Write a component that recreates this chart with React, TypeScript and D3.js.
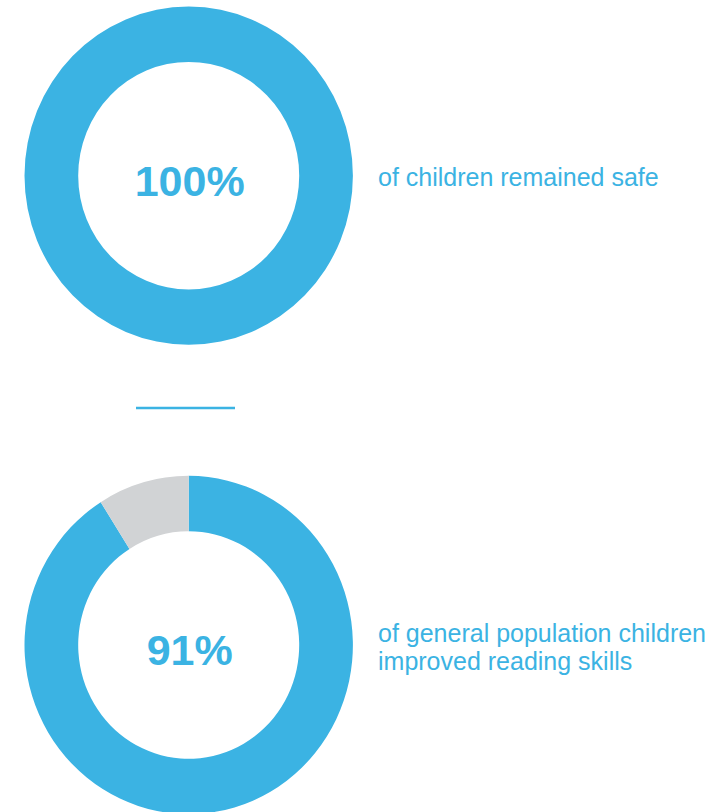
import React from "react";
import * as d3 from "d3";

const charts = ["safe", "reading"];
const percentLabels = ["100%", "91%"];
const achievedValues = [100, 91];
const remainderValues = [0, 9];
const captionLines = [
  ["of children remained safe"],
  ["of general population children", "improved reading skills"],
];

const BLUE = "#3bb3e3";
const GREY = "#d1d3d5";
const W = 723;
const H = 812;

export default function App() {
  const cx = 188.7;
  const centersY = [175.7, 645];
  const outerR = 164.2;
  const innerR = 110.5;
  const scaleY = 1.03;
  const pie = d3.pie<number>().sort(null).value((d) => d);
  const arc = d3.arc<d3.PieArcDatum<number>>().innerRadius(innerR).outerRadius(outerR);
  const colors = [BLUE, GREY];
  const font = "'Liberation Sans', Arial, Helvetica, sans-serif";

  return (
    <svg
      width={W}
      height={H}
      style={{ position: "absolute", left: 0, top: 0, background: "#fff" }}
    >
      {charts.map((key, i) => {
        const arcs = pie([achievedValues[i], remainderValues[i]]);
        const cy = centersY[i];
        const lines = captionLines[i];
        const lineH = 28;
        const baseY = cy + 10.5 - ((lines.length - 1) * lineH) / 2;
        return (
          <g key={key}>
            <g transform={`translate(${cx},${cy}) scale(1,${scaleY})`}>
              {arcs.map((a, j) =>
                a.value > 0 ? (
                  <path key={j} d={arc(a) || ""} fill={colors[j]} />
                ) : null
              )}
            </g>
            <text
              x={cx + 1}
              y={cy + 20}
              textAnchor="middle"
              fontFamily={font}
              fontWeight="bold"
              fontSize={43}
              fill={BLUE}
            >
              {percentLabels[i]}
            </text>
            <text fontFamily={font} fontSize={25} fill={BLUE}>
              {lines.map((l, k) => (
                <tspan key={k} x={378} y={baseY + k * lineH}>
                  {l}
                </tspan>
              ))}
            </text>
          </g>
        );
      })}
      <line x1={136} x2={235} y1={408} y2={408} stroke={BLUE} strokeWidth={2.5} />
    </svg>
  );
}
